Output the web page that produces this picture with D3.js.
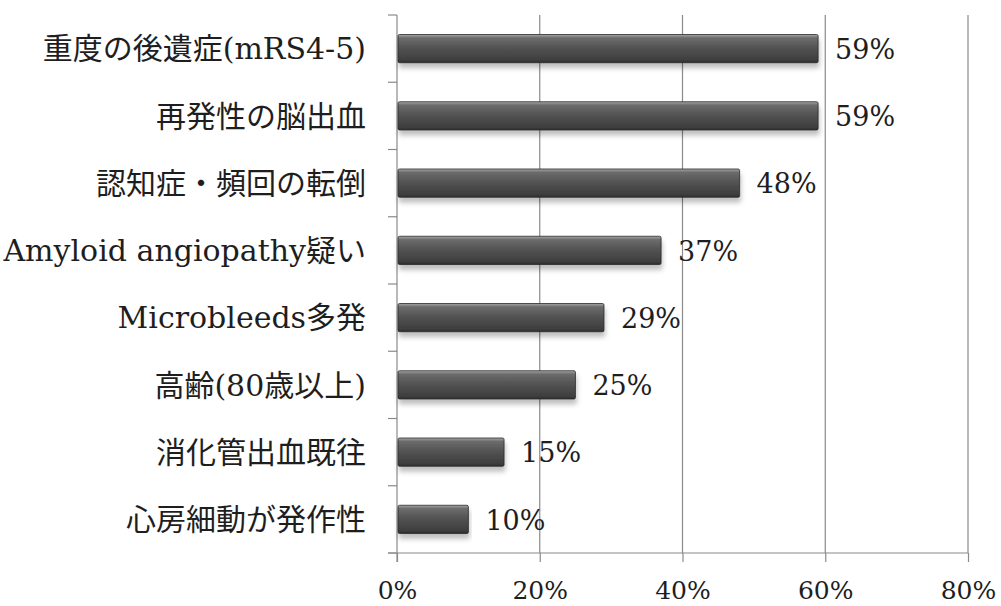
<!DOCTYPE html>
<html>
<head>
<meta charset="utf-8">
<script src="https://cdn.jsdelivr.net/npm/d3@7"></script>
<style>
  html, body { margin: 0; padding: 0; background: #fff; }
  svg { display: block; }
  text { font-family: "DejaVu Serif", "Noto Sans CJK JP", serif; fill: #1e1e1e; }
</style>
</head>
<body>
<svg id="chart" width="1001" height="606"></svg>
<script>
// Reasons for not prescribing anticoagulation (share of respondents)
const categories = [
  "重度の後遺症(mRS4-5)",
  "再発性の脳出血",
  "認知症・頻回の転倒",
  "Amyloid angiopathy疑い",
  "Microbleeds多発",
  "高齢(80歳以上)",
  "消化管出血既往",
  "心房細動が発作性"
];
const values = [59, 59, 48, 37, 29, 25, 15, 10];
const xTicks = [0, 20, 40, 60, 80];

const svg = d3.select("#chart");
const plotLeft = 397, plotRight = 968, plotTop = 15, plotBottom = 553;

const x = d3.scaleLinear().domain([0, 80]).range([plotLeft, plotRight]);
const y = d3.scaleBand().domain(categories).range([plotTop, plotBottom]).paddingInner(0.58).paddingOuter(0.29);

const defs = svg.append("defs");
const grad = defs.append("linearGradient").attr("id", "barGrad")
  .attr("x1", 0).attr("y1", 0).attr("x2", 0).attr("y2", 1);
[[0, "#a8a8a8"], [0.12, "#6c6c6c"], [0.45, "#545454"], [0.9, "#3e3e3e"], [1, "#2e2e2e"]]
  .forEach(([o, c]) => grad.append("stop").attr("offset", o).attr("stop-color", c));
const shadow = defs.append("filter").attr("id", "barShadow")
  .attr("x", "-5%").attr("y", "-30%").attr("width", "110%").attr("height", "190%");
shadow.append("feDropShadow").attr("dx", 1).attr("dy", 5).attr("stdDeviation", 2.5)
  .attr("flood-color", "#000").attr("flood-opacity", 0.25);

// vertical gridlines
svg.append("g").selectAll("line").data(xTicks.slice(1)).join("line")
  .attr("x1", d => x(d)).attr("x2", d => x(d))
  .attr("y1", plotTop).attr("y2", plotBottom)
  .attr("stroke", "#8a8a8a").attr("stroke-width", 1.2);

// bottom axis
const xAxis = d3.axisBottom(x).tickValues(xTicks).tickFormat(d => d + "%")
  .tickSize(9).tickSizeOuter(0).tickPadding(19);
const gx = svg.append("g").attr("transform", `translate(0,${plotBottom})`).call(xAxis);
gx.select(".domain").attr("stroke", "#8a8a8a").attr("stroke-width", 1.2)
  .attr("d", `M${plotLeft - 9},0H${plotRight}`);
gx.selectAll(".tick line").attr("stroke", "#8a8a8a").attr("stroke-width", 1.2);
gx.selectAll(".tick text").attr("font-size", 25).attr("font-family", "DejaVu Serif").attr("fill", "#1e1e1e");

// left axis: line with ticks at category boundaries
svg.append("line").attr("x1", plotLeft).attr("x2", plotLeft).attr("y1", plotTop).attr("y2", plotBottom + 9)
  .attr("stroke", "#8a8a8a").attr("stroke-width", 1.2);
const step = y.step();
const bounds = d3.range(categories.length + 1).map(i => plotTop + i * step);
svg.append("g").selectAll("line").data(bounds).join("line")
  .attr("x1", plotLeft - 9).attr("x2", plotLeft).attr("y1", d => d).attr("y2", d => d)
  .attr("stroke", "#8a8a8a").attr("stroke-width", 1.2);

// bars
svg.append("g").selectAll("rect").data(values).join("rect")
  .attr("x", x(0) + 1)
  .attr("y", (d, i) => y(categories[i]))
  .attr("width", d => x(d) - x(0) - 1)
  .attr("height", y.bandwidth())
  .attr("rx", 1.5)
  .attr("fill", "url(#barGrad)")
  .attr("stroke", "#2a2a2a").attr("stroke-width", 0.8)
  .attr("filter", "url(#barShadow)");

// category labels
svg.append("g").selectAll("text").data(categories).join("text")
  .attr("x", 366)
  .attr("y", d => y(d) + y.bandwidth() / 2)
  .attr("dy", "0.36em")
  .attr("text-anchor", "end")
  .attr("font-size", 30)
  .text(d => d);

// value labels
svg.append("g").selectAll("text").data(values).join("text")
  .attr("x", d => x(d) + 17)
  .attr("y", (d, i) => y(categories[i]) + y.bandwidth() / 2)
  .attr("dy", "0.38em")
  .attr("font-size", 27)
  .text(d => d + "%");
</script>
</body>
</html>
